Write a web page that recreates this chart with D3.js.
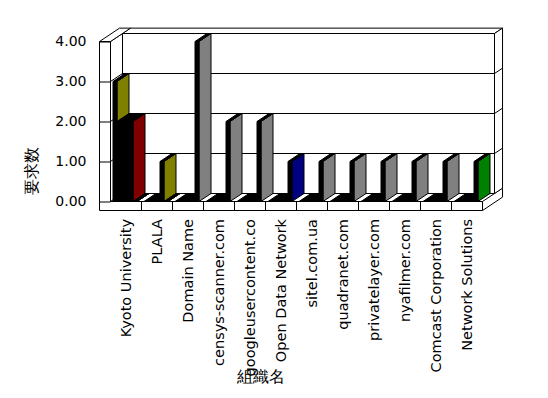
<!DOCTYPE html>
<html>
<head>
<meta charset="utf-8">
<script src="https://cdn.jsdelivr.net/npm/d3@7"></script>
<style>
  body { margin: 0; background: #fff; }
  text { font-family: "DejaVu Sans", sans-serif; fill: #000; }
</style>
</head>
<body>
<div id="chart"></div>
<script>
const categories = ["Kyoto University", "PLALA", "Domain Name", "censys-scanner.com",
  "googleusercontent.co", "Open Data Network", "sitel.com.ua", "quadranet.com",
  "privatelayer.com", "nyafilmer.com", "Comcast Corporation", "Network Solutions"];
const yTicks = [0, 1, 2, 3, 4];
const yTitle = "要求数";
const xTitle = "組織名";

// six series drawn side by side inside each category
const s1 = [3, 0, 0, 0, 0, 0, 0, 0, 0, 0, 0, 0];
const s2 = [2, 0, 0, 0, 0, 0, 0, 0, 0, 0, 0, 0];
const s3 = [2, 0, 0, 0, 0, 0, 0, 0, 0, 0, 0, 0];
const s4 = [2, 0, 0, 0, 0, 0, 0, 0, 0, 0, 0, 0];
const s5 = [2, 1, 0, 0, 0, 0, 0, 0, 0, 0, 0, 0];
const s6 = [0, 0, 4, 2, 2, 1, 1, 1, 1, 1, 1, 1];
const c5 = ["#800000", "#808000"];
const c6 = ["#808080", "#808080", "#808080", "#808080", "#808080", "#000080",
  "#808080", "#808080", "#808080", "#808080", "#808080", "#008000"];
const seriesColors = ["#808000", "#808080", "#808080", "#808080", c5, c6];

const width = 548, height = 398;
const svg = d3.select("#chart").append("svg")
  .attr("width", width).attr("height", height);

const x = d3.scaleBand().domain(categories).range([110.5, 482.5]);
const slot = d3.scaleBand().domain(d3.range(6)).range([2.5, 26.5]);
const y = d3.scaleLinear().domain([0, 4]).range([201.5, 41.5]);

const dx = 12, dy = -8;      // depth of the plot
const wallZ = 1.67;          // back of the back wall, in depth units
const xL = 99.5;             // outer edge of the left wall
const floorBottom = 210.5;

// oblique projection: px, value, depth -> screen
const P = (px, v, z) => [px + z * dx, y(v) + z * dy];
const Pf = (px, yy, z) => [px + z * dx, yy + z * dy];
const poly = pts => "M" + pts.map(p => p.join(",")).join("L") + "Z";

const X0 = x.range()[0], X1 = x.range()[1];
const g = svg.append("g")
  .attr("stroke", "#000").attr("stroke-width", 1)
  .attr("stroke-linejoin", "miter");

// floor slab: right side
g.append("path").attr("fill", "#fff")
  .attr("d", poly([Pf(X1, y(0), 0), Pf(X1, floorBottom, 0), Pf(X1, floorBottom, wallZ), Pf(X1, y(0), wallZ)]));
// back wall: front face, top, right side
g.append("path").attr("fill", "#fff")
  .attr("d", poly([P(X0, 0, 1), P(X1, 0, 1), P(X1, 4, 1), P(X0, 4, 1)]));
g.append("path").attr("fill", "#fff")
  .attr("d", poly([P(X0, 4, 1), P(X1, 4, 1), P(X1, 4, wallZ), P(X0, 4, wallZ)]));
g.append("path").attr("fill", "#fff")
  .attr("d", poly([P(X1, 0, 1), P(X1, 4, 1), P(X1, 4, wallZ), P(X1, 0, wallZ)]));
// left wall: inner face, top
g.append("path").attr("fill", "#fff")
  .attr("d", poly([P(X0, 0, 0), P(X0, 4, 0), P(X0, 4, 1), P(X0, 0, 1)]));
g.append("path").attr("fill", "#fff")
  .attr("d", poly([P(xL, 4, 0), P(X0, 4, 0), P(X0, 4, wallZ), P(xL, 4, wallZ)]));

// grid lines: left wall inner face, back wall, back wall side
const grid = g.append("g").attr("fill", "none");
grid.selectAll(".gl").data(yTicks.slice(1, -1)).join("path")
  .attr("d", d => "M" + [P(X0, d, 0), P(X0, d, 1), P(X1, d, 1), P(X1, d, wallZ)].map(p => p.join(",")).join("L"));

// bars, left to right
const bars = [];
[s1, s2, s3, s4, s5, s6].forEach((s, j) => {
  s.forEach((v, i) => {
    const col = Array.isArray(seriesColors[j]) ? (seriesColors[j][i] || "#808080") : seriesColors[j];
    bars.push({ v, x0: x(categories[i]) + slot(j), color: col });
  });
});
bars.sort((a, b) => a.x0 - b.x0);
const bw = slot.bandwidth();
const bar = g.append("g").selectAll("g").data(bars).join("g");
bar.append("path").attr("fill", d => d.color)
  .attr("d", d => poly([P(d.x0 + bw, 0, 0), P(d.x0 + bw, d.v, 0), P(d.x0 + bw, d.v, 1), P(d.x0 + bw, 0, 1)]));
bar.append("path").attr("fill", "#000")
  .attr("d", d => poly([P(d.x0, d.v, 0), P(d.x0 + bw, d.v, 0), P(d.x0 + bw, d.v, 1), P(d.x0, d.v, 1)]));
bar.filter(d => d.v > 0).append("path").attr("fill", "#000")
  .attr("d", d => poly([P(d.x0, 0, 0), P(d.x0 + bw, 0, 0), P(d.x0 + bw, d.v, 0), P(d.x0, d.v, 0)]));

// left wall front face and floor front face
g.append("path").attr("fill", "#fff")
  .attr("d", poly([Pf(xL, floorBottom, 0), Pf(xL, y(4), 0), Pf(X0, y(4), 0), Pf(X0, y(0), 0), Pf(X1, y(0), 0), Pf(X1, floorBottom, 0)]));
g.append("g").selectAll("line").data(categories.slice(1)).join("line")
  .attr("x1", d => x(d)).attr("x2", d => x(d))
  .attr("y1", y(0)).attr("y2", floorBottom);

// value axis on the wall front
const yAxis = svg.append("g").attr("transform", `translate(${xL},0)`)
  .call(d3.axisLeft(y).tickValues(yTicks).tickFormat(d3.format(".2f"))
    .tickSizeInner(-(X0 - xL)).tickSizeOuter(0).tickPadding(13));
yAxis.select(".domain").remove();
yAxis.selectAll("line").attr("stroke", "#000");
yAxis.selectAll("text").attr("font-size", 14).attr("font-family", "DejaVu Sans");

// category labels
svg.append("g").selectAll("text").data(categories).join("text")
  .attr("transform", d => `translate(${x(d) + x.bandwidth() / 2},219) rotate(-90)`)
  .attr("text-anchor", "end").attr("dy", "0.35em")
  .attr("font-size", 14.5)
  .text(d => d);

// axis titles
svg.append("text")
  .attr("transform", "translate(31,171) rotate(-90)")
  .attr("text-anchor", "middle").attr("dy", "0.35em")
  .attr("font-family", "Noto Sans CJK JP").attr("font-size", 16)
  .text(yTitle);
svg.append("text")
  .attr("x", 261).attr("y", 376)
  .attr("text-anchor", "middle").attr("dy", "0.35em")
  .attr("font-family", "Noto Sans CJK JP").attr("font-size", 16)
  .text(xTitle);
</script>
</body>
</html>
